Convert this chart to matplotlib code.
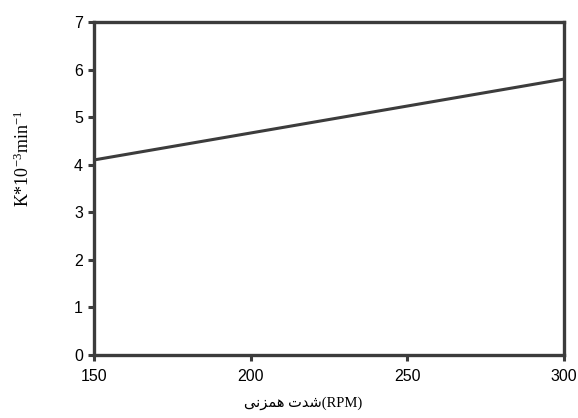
import matplotlib.pyplot as plt

# stirring speed (RPM) vs rate constant
speed = [150, 300]
rate_k = [4.1, 5.8]

x_ticks = [150, 200, 250, 300]
y_ticks = [0, 1, 2, 3, 4, 5, 6, 7]

# Persian label in presentation forms, visual order: "شدت همزنی"
fa_label = "\uFEF0\uFEE7\uFEB0\uFEE4\uFEEB \uFE95\uFEAA\uFEB7"

plt.rcParams['mathtext.fontset'] = 'custom'
plt.rcParams['mathtext.rm'] = 'Liberation Serif'
plt.rcParams['mathtext.it'] = 'Liberation Serif:italic'

fig = plt.figure(figsize=(5.78, 4.18), dpi=100)
ax = fig.add_axes([0.1626, 0.1507, 0.8132, 0.7967])

ink = '#3c3c3c'
ax.plot(speed, rate_k, color=ink, lw=2.2, solid_capstyle='butt')

ax.set_xlim(150, 300)
ax.set_ylim(0, 7)
ax.set_xticks(x_ticks)
ax.set_yticks(y_ticks)
for s in ax.spines.values():
    s.set_linewidth(2.4)
    s.set_color(ink)

ax.tick_params(direction='out', length=4, width=2.2, color=ink,
               labelsize=11.5, pad=4)
for lab in ax.get_xticklabels() + ax.get_yticklabels():
    lab.set_family('Liberation Sans')
ax.tick_params(axis='x', pad=6)

ax.set_ylabel(r'K*10$^{\mathrm{-3}}$min$^{\mathrm{-1}}$', family='Liberation Serif',
              fontsize=13)
ax.yaxis.set_label_coords(-0.13, 0.59)
ax.set_xlabel(fa_label + '(RPM)', family=['Liberation Serif', 'DejaVu Sans'],
              fontsize=10.5)
ax.xaxis.set_label_coords(0.445, -0.125)

fig.savefig('out.png', dpi=100)
